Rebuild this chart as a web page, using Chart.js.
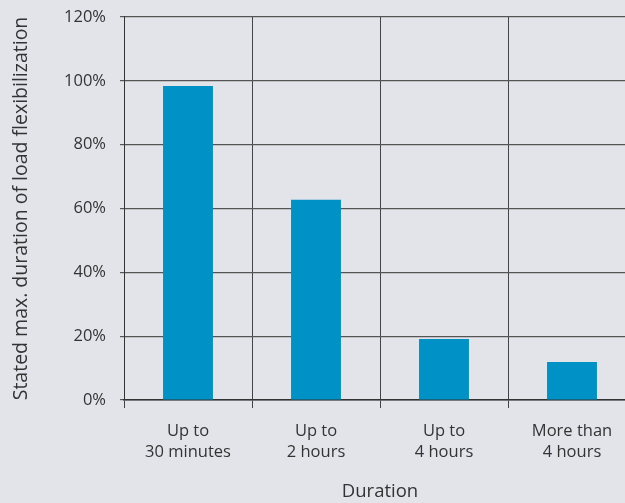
<!DOCTYPE html>
<html>
<head>
<meta charset="utf-8">
<script src="https://cdn.jsdelivr.net/npm/chart.js@4"></script>
<style>
  html, body { margin: 0; padding: 0; overflow: hidden; background: #e3e4ea; }
  #wrap { width: 625px; height: 503px; overflow: hidden; }
</style>
</head>
<body>
<div id="wrap"><canvas id="durationChart" width="640" height="503"></canvas></div>
<script>
// categories and values (share of respondents, %)
const categories = [['Up to', '30 minutes'], ['Up to', '2 hours'], ['Up to', '4 hours'], ['More than', '4 hours']];
const shares = [98.4, 62.7, 19.1, 11.9];
const yTicks = [0, 20, 40, 60, 80, 100, 120];

const FONT = '"Open Sans", sans-serif';
const TEXT = '#333';

const bgPlugin = {
    id: 'bg',
    beforeDraw(chart) {
        const ctx = chart.ctx;
        ctx.save();
        ctx.fillStyle = '#e3e4ea';
        ctx.fillRect(0, 0, chart.width, chart.height);
        ctx.restore();
    }
};

new Chart(document.getElementById('durationChart'), {
    type: 'bar',
    data: {
        labels: categories,
        datasets: [{
            label: 'Share',
            data: shares,
            backgroundColor: '#0091c6',
            barPercentage: 0.78,
            categoryPercentage: 0.5
        }]
    },
    options: {
        responsive: false,
        animation: false,
        devicePixelRatio: 1,
        layout: { padding: { top: 0, right: 4, bottom: 0, left: 0 } },
        plugins: { legend: { display: false }, tooltip: { enabled: false } },
        scales: {
            x: {
                offset: true,
                grid: { offset: true, color: '#444', lineWidth: 1, tickLength: 8, drawOnChartArea: true },
                border: { color: '#333', width: 1.5 },
                ticks: { color: TEXT, font: { family: FONT, size: 16.5, lineHeight: 1.25 }, padding: 13, maxRotation: 0 },
                title: { display: true, text: 'Duration', color: TEXT, font: { family: FONT, size: 18.5 }, padding: { top: 0, bottom: 0 } },
                afterFit(s) { s.height = 103; }
            },
            y: {
                min: 0,
                max: 120,
                afterBuildTicks(s) { s.ticks = yTicks.map(v => ({ value: v })); },
                grid: { color: '#555', lineWidth: 1.2, tickLength: 4 },
                border: { color: '#333', width: 1 },
                // small lineHeight keeps the top tick label from pushing the plot down
                ticks: { color: TEXT, font: { family: FONT, size: 16.5, lineHeight: 0.36 }, padding: 14, callback: v => v + '%' },
                title: { display: true, text: 'Stated max. duration of load flexibilization', color: TEXT, font: { family: FONT, size: 19.5 }, padding: { top: 10, bottom: 4 } },
                afterFit(s) { s.width = 124; }
            }
        }
    },
    plugins: [bgPlugin]
});
</script>
</body>
</html>
